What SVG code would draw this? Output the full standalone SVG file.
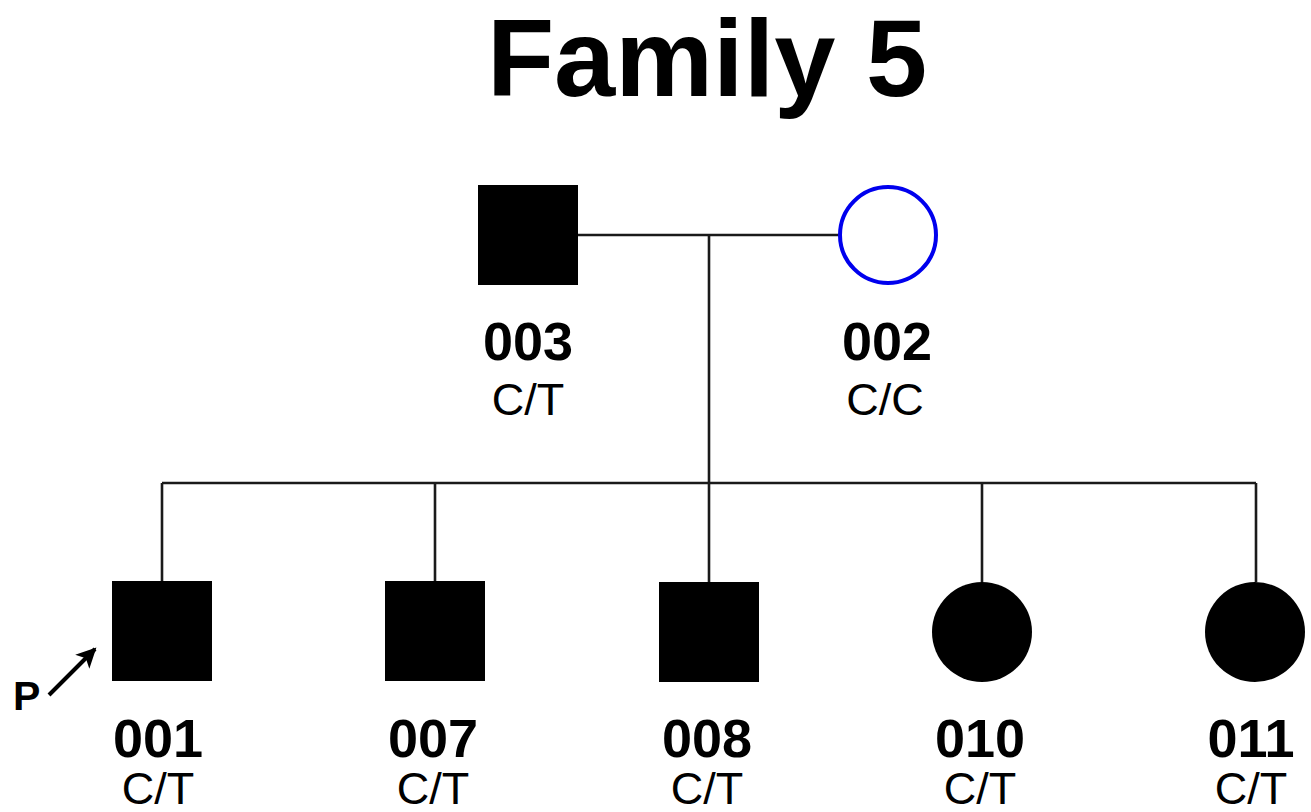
<svg xmlns="http://www.w3.org/2000/svg" width="1311" height="812" viewBox="0 0 1311 812">
<style>
.ln{stroke:#1a1a1a;stroke-width:2.6;fill:none}
.aff{fill:#000}
.id{font-family:"Liberation Sans",Arial,sans-serif;font-weight:bold;font-size:54px;text-anchor:middle;fill:#000}
.gt{font-family:"Liberation Sans",Arial,sans-serif;font-size:45px;text-anchor:middle;fill:#000}
</style>
<defs>
<marker id="ah" viewBox="0 0 10 10" refX="9" refY="5" markerWidth="5.5" markerHeight="5" orient="auto" markerUnits="strokeWidth">
<path d="M0,0 L10,5 L0,10 L2.5,5 Z" fill="#000"/>
</marker>
</defs>
<rect width="1311" height="812" fill="#fff"/>
<text x="707" y="96" font-family="Liberation Sans,Arial,sans-serif" font-weight="bold" font-size="110" text-anchor="middle">Family 5</text>
<g id="connectors">
<line class="ln" x1="578" y1="235" x2="840" y2="235"/>
<line class="ln" x1="709" y1="235" x2="709" y2="483"/>
<line class="ln" x1="162" y1="483" x2="1256" y2="483"/>
<line class="ln" x1="162" y1="483" x2="162" y2="582"/>
<line class="ln" x1="435" y1="483" x2="435" y2="582"/>
<line class="ln" x1="709" y1="483" x2="709" y2="582"/>
<line class="ln" x1="982" y1="483" x2="982" y2="582"/>
<line class="ln" x1="1256" y1="483" x2="1256" y2="582"/>
</g>
<g id="n003">
<rect class="aff" x="478" y="185" width="100" height="100"/>
<text class="id" x="528" y="360">003</text>
<text class="gt" x="528" y="415">C/T</text>
</g>
<g id="n002">
<circle cx="888" cy="235" r="48" fill="#fff" stroke="#0000ee" stroke-width="4"/>
<text class="id" x="887" y="360">002</text>
<text class="gt" x="885" y="415">C/C</text>
</g>
<g id="n001">
<rect class="aff" x="112" y="581" width="100" height="100"/>
<text class="id" x="158" y="757">001</text>
<text class="gt" x="158" y="804">C/T</text>
</g>
<g id="proband">
<text x="13" y="710" font-family="Liberation Sans,Arial,sans-serif" font-weight="bold" font-size="41">P</text>
<line x1="49" y1="695" x2="95" y2="649" stroke="#000" stroke-width="4" marker-end="url(#ah)"/>
</g>
<g id="n007">
<rect class="aff" x="385" y="581" width="100" height="100"/>
<text class="id" x="433" y="757">007</text>
<text class="gt" x="433" y="804">C/T</text>
</g>
<g id="n008">
<rect class="aff" x="659" y="582" width="100" height="100"/>
<text class="id" x="707" y="757">008</text>
<text class="gt" x="707" y="804">C/T</text>
</g>
<g id="n010">
<circle class="aff" cx="982" cy="632" r="50"/>
<text class="id" x="980" y="757">010</text>
<text class="gt" x="980" y="804">C/T</text>
</g>
<g id="n011">
<circle class="aff" cx="1255" cy="632" r="50"/>
<text class="id" x="1251" y="757">011</text>
<text class="gt" x="1251" y="804">C/T</text>
</g>
</svg>
